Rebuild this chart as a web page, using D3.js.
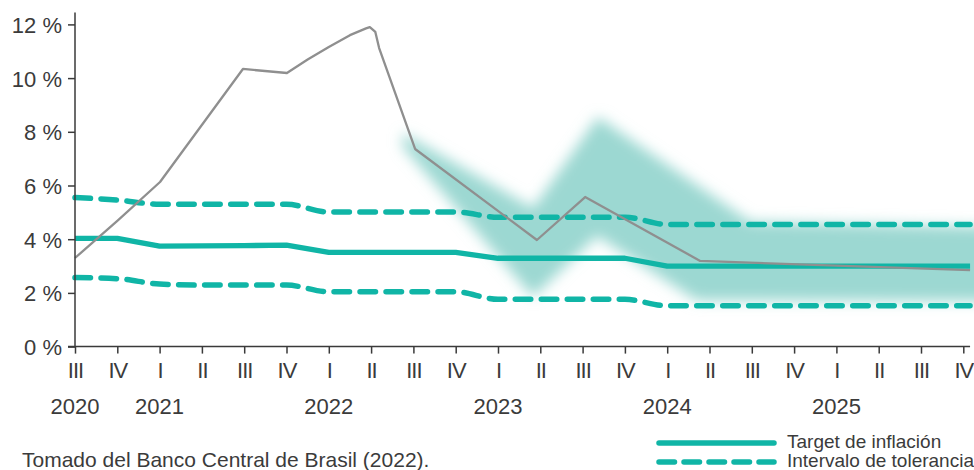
<!DOCTYPE html>
<html><head><meta charset="utf-8">
<script src="https://cdn.jsdelivr.net/npm/d3@7"></script>
<style>
body{margin:0;background:#fff}
svg{display:block}
text{font-family:"Liberation Sans",Arial,Helvetica,sans-serif;fill:#3b3b3b}
</style>
</head><body>
<svg id="chart" width="974" height="470"></svg>
<script>
// ---- data ----
const quarterLabels = ["III","IV","I","II","III","IV","I","II","III","IV","I","II","III","IV","I","II","III","IV","I","II","III","IV"];
const yearLabels = ["2020","2021","2022","2023","2024","2025"];
const yearQuarterIndex = [0,2,6,10,14,18];
const yTicks = [0,2,4,6,8,10,12];

// target & tolerance band (quarter positions; last = axis end)
const bandQuarters = [0,1,2,3,4,5,6,7,8,9,10,11,12,13,14,15,16,17,18,19,20,21,21.16];
const targetValues = [4.03,4.03,3.74,3.75,3.76,3.78,3.51,3.51,3.51,3.51,3.29,3.29,3.29,3.29,3.0,3.0,3.0,3.0,3.0,3.0,3.0,3.0,3.0];
const upperValues  = [5.55,5.46,5.3,5.3,5.3,5.3,5.01,5.01,5.01,5.01,4.82,4.82,4.82,4.82,4.55,4.55,4.55,4.55,4.55,4.55,4.55,4.55,4.55];
const lowerValues  = [2.57,2.53,2.33,2.29,2.29,2.29,2.04,2.04,2.04,2.04,1.76,1.76,1.76,1.76,1.52,1.52,1.52,1.52,1.52,1.52,1.52,1.52,1.52];

// inflation (grey line)
const inflationQuarters = [0,1.02,2.01,3.97,5.01,5.5,6.0,6.5,6.88,6.97,7.1,7.19,8.04,10.92,12.06,14.78,21.16];
const inflationValues   = [3.3,4.71,6.13,10.34,10.19,10.69,11.16,11.6,11.85,11.9,11.72,11.12,7.36,3.97,5.57,3.19,2.85];

// projection fan (shaded)
const fanUpperQuarters = [7.75,10.83,12.36,15.96,21.8];
const fanUpperValues   = [7.95,5.15,8.55,4.65,4.45];
const fanLowerQuarters = [7.75,10.83,12.34,14.7,21.8];
const fanLowerValues   = [7.45,1.85,4.12,1.72,1.7];

const legendLabels = ["Target de inflación","Intervalo de tolerancia"];
const sourceText = "Tomado del Banco Central de Brasil (2022).";

// ---- chart ----
const TEAL = "#10b5a6", GREY = "#8f8f8f", FAN = "#9cd8d2", AXIS = "#3a3a3a";
const svg = d3.select("#chart");
const x = d3.scaleLinear().domain([0,21]).range([75,963.3]);
const y = d3.scaleLinear().domain([0,12]).range([346.6,24.4]);

const defs = svg.append("defs");
defs.append("filter").attr("id","blur").attr("x","-20%").attr("y","-20%").attr("width","140%").attr("height","140%")
  .append("feGaussianBlur").attr("stdDeviation",7);

// fan
const fanPts = fanUpperQuarters.map((q,i)=>[x(q),y(fanUpperValues[i])])
  .concat(fanLowerQuarters.map((q,i)=>[x(q),y(fanLowerValues[i])]).reverse());
svg.append("path").attr("d", d3.line()(fanPts)+"Z").attr("fill",FAN).attr("filter","url(#blur)");

const band = bandQuarters.map((q,i)=>({q, t:targetValues[i], u:upperValues[i], l:lowerValues[i]}));
const dashed = k => d3.line().x(d=>x(d.q)).y(d=>y(d[k])).curve(d3.curveMonotoneX);
["u","l"].forEach(k=>{
  svg.append("path").attr("d",dashed(k)(band)).attr("fill","none").attr("stroke",TEAL)
    .attr("stroke-width",5.5).attr("stroke-dasharray","15.5,10.5").attr("stroke-linecap","round");
});
svg.append("path").attr("d", d3.line().x(d=>x(d.q)).y(d=>y(d.t))(band))
  .attr("fill","none").attr("stroke",TEAL).attr("stroke-width",5.3).attr("stroke-linejoin","round");

const infl = inflationQuarters.map((q,i)=>[x(q),y(inflationValues[i])]);
svg.append("path").attr("d", d3.line()(infl)).attr("fill","none").attr("stroke",GREY)
  .attr("stroke-width",2.3).attr("stroke-linejoin","round");

// y axis
const yAxis = svg.append("g").attr("transform",`translate(${x(0)},0)`)
  .call(d3.axisLeft(y).tickValues(yTicks).tickSize(7).tickFormat(d=>d+" %"));
yAxis.select(".domain").attr("d",`M0,12.5V${y(0)}`).attr("stroke",AXIS).attr("stroke-width",1.5);
yAxis.selectAll(".tick line").attr("stroke",AXIS).attr("stroke-width",1.5);
yAxis.selectAll(".tick text").attr("x",-13).attr("dy","0.36em").style("font-size","22px")
  .style("font-family",'"Liberation Sans",Arial,sans-serif').attr("fill","#3b3b3b");

// x axis
const xAxis = svg.append("g").attr("transform",`translate(0,${y(0)})`)
  .call(d3.axisBottom(x).tickValues(d3.range(quarterLabels.length)).tickSize(7).tickFormat(i=>quarterLabels[i]));
xAxis.select(".domain").attr("d",`M${x(0)-7},0H${x(21.16)}`).attr("stroke",AXIS).attr("stroke-width",1.5);
xAxis.selectAll(".tick line").attr("stroke",AXIS).attr("stroke-width",1.5);
xAxis.selectAll(".tick text").attr("y",31.5).attr("dy",0).style("font-size","22px")
  .style("letter-spacing","-1px")
  .style("font-family",'"Liberation Sans",Arial,sans-serif').attr("fill","#3b3b3b");

// years
svg.append("g").selectAll("text").data(yearLabels).join("text")
  .attr("x",(d,i)=>x(yearQuarterIndex[i])).attr("y",414).attr("text-anchor","middle")
  .style("font-size","22px").text(d=>d);

// source
svg.append("text").attr("x",22).attr("y",467).style("font-size","21px").text(sourceText);

// legend
const lg = svg.append("g");
lg.append("line").attr("x1",659).attr("x2",774).attr("y1",443).attr("y2",443)
  .attr("stroke",TEAL).attr("stroke-width",5.5).attr("stroke-linecap","round");
lg.append("line").attr("x1",659).attr("x2",774).attr("y1",462).attr("y2",462)
  .attr("stroke",TEAL).attr("stroke-width",5.5).attr("stroke-linecap","round").attr("stroke-dasharray","15.5,9.5");
lg.selectAll("text").data(legendLabels).join("text")
  .attr("x",787).attr("y",(d,i)=>447.5+i*19.5).style("font-size","19px").text(d=>d);
</script>
</body></html>
